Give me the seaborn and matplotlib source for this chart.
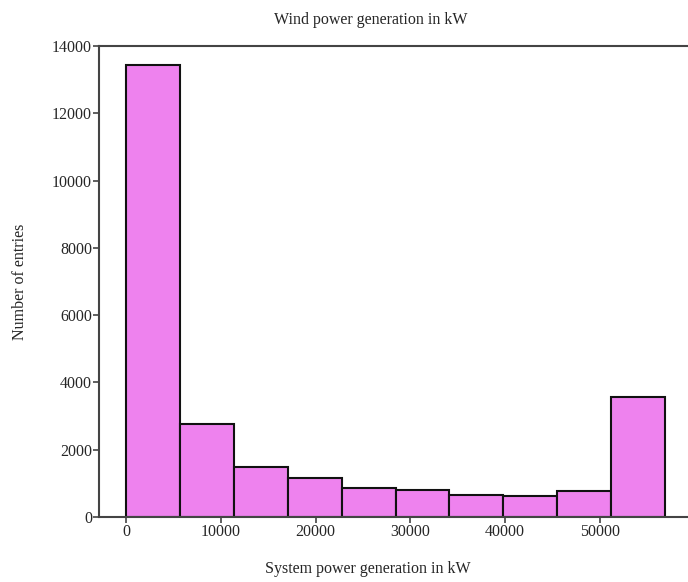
import numpy as np
import matplotlib
matplotlib.use('Agg')
import matplotlib.pyplot as plt
import seaborn as sns

# histogram counts, 10 equal bins from 0 to ~56900 kW
bin_edges = np.linspace(0, 56880, 11).tolist()
counts = [13440, 2776, 1486, 1159, 848, 812, 644, 614, 773, 3556]
bin_centers = [(a + b) / 2 for a, b in zip(bin_edges[:-1], bin_edges[1:])]

sns.set_style('white')
plt.rcParams['font.family'] = ['Liberation Serif', 'DejaVu Serif']

fig = plt.figure(figsize=(6.88, 5.82), dpi=100)
ax = fig.add_axes([0.1439, 0.1117, 0.8561, 0.8093])

sns.histplot(x=bin_centers, weights=counts, bins=bin_edges, ax=ax,
             color='#EE82EE', alpha=1, edgecolor='#111111', linewidth=1.5)

ax.set_xlim(-2850, 59300)
ax.set_ylim(0, 14000)
ax.set_xticks([0, 10000, 20000, 30000, 40000, 50000])
ax.set_yticks(range(0, 14001, 2000))

for side in ['left', 'bottom', 'top']:
    ax.spines[side].set_color('#444444')
    ax.spines[side].set_linewidth(1.5)
ax.spines['right'].set_visible(False)

ax.tick_params(axis='both', which='both', direction='out', length=4, width=1.2,
               color='#444444', labelsize=11.5, left=True, bottom=True)
ax.tick_params(axis='y', pad=1)
ax.tick_params(axis='x', pad=1)

ax.set_title('Wind power generation in kW', fontsize=11.5, pad=16, x=0.462)
ax.set_xlabel('System power generation in kW', fontsize=11.5, labelpad=17)
ax.xaxis.set_label_coords(0.456, -0.093)
ax.set_ylabel('Number of entries', fontsize=11.5, labelpad=17)

fig.savefig('out.png', dpi=100)
